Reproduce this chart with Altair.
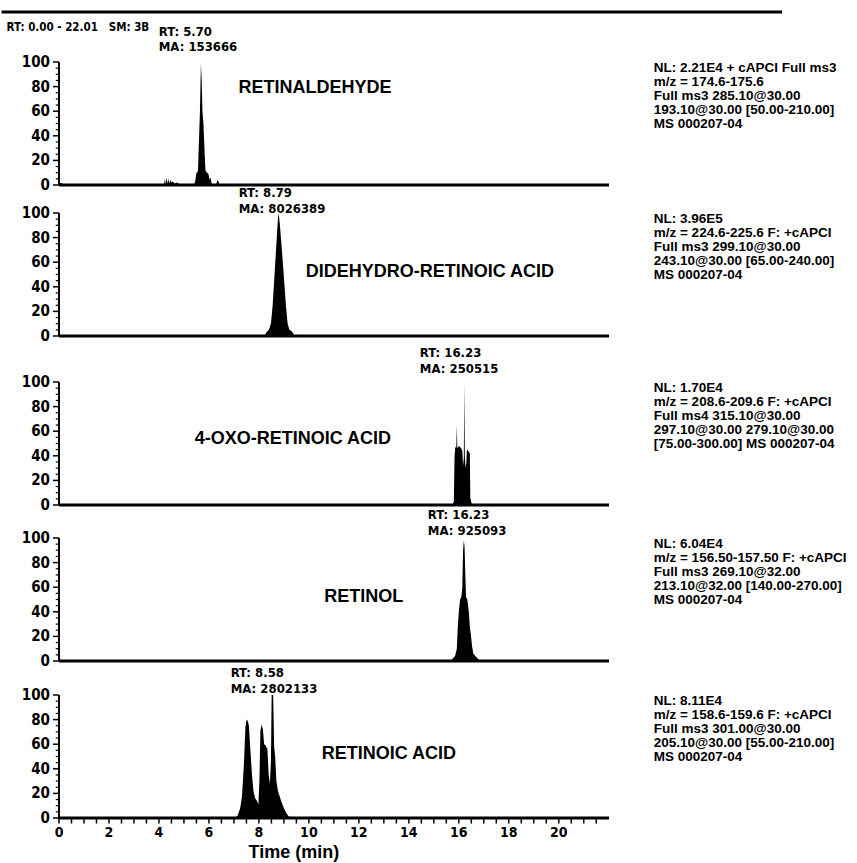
import altair as alt
import pandas as pd

X_MAX = 22.01
PX = 1.23  # pixels per intensity unit
NARROW = "Liberation Sans Narrow, DejaVu Sans Condensed, Arial Narrow, sans-serif"
SANS = "Liberation Sans, Arial, Helvetica, sans-serif"

# ---------------- data ----------------
p1_t = [0.00, 0.15, 0.30, 4.20, 4.24, 4.27, 4.31, 4.34, 4.38, 4.41, 4.45, 4.50, 4.56, 4.62, 4.70, 4.80, 4.95,
        5.30, 5.42, 5.46, 5.50, 5.56, 5.60, 5.64, 5.68, 5.71, 5.74, 5.78, 5.82, 5.86, 5.92, 5.98, 6.03,
        6.07, 6.11, 6.20, 6.30, 6.34, 6.38, 6.42]
p1_y = [2, 1, 0, 0, 5, 0.5, 6, 1, 5, 1, 4, 2, 3, 1, 2, 1, 0.5,
        0.5, 1, 4, 10, 11, 35, 60, 99, 85, 60, 50, 30, 12, 10, 9, 4,
        6, 1, 0.5, 1, 4, 3, 0]

p2_t = [8.22, 8.30, 8.40, 8.48, 8.55, 8.62, 8.70, 8.76, 8.79, 8.84, 8.92, 9.00, 9.08, 9.15, 9.22,
        9.30, 9.38, 9.42, 9.55, 9.60, 9.70, 9.75]
p2_y = [0, 3, 5, 10, 25, 48, 75, 95, 100, 90, 70, 48, 25, 10, 5,
        4, 2, 0, 1, 0, 1, 0]

p3_t = [15.75, 15.80, 15.83, 15.86, 15.90, 15.92, 15.94, 16.00, 16.06, 16.10, 16.14, 16.17, 16.20, 16.22,
        16.24, 16.27, 16.30, 16.32, 16.36, 16.40, 16.44, 16.46, 16.50, 16.55]
p3_y = [0, 3, 40, 47, 47, 65, 46, 48, 47, 46, 44, 32, 38, 99,
        40, 30, 34, 44, 45, 43, 42, 6, 2, 0]

p4_t = [15.70, 15.75, 15.85, 15.92, 15.96, 16.00, 16.05, 16.10, 16.14, 16.17, 16.20, 16.23, 16.26, 16.29,
        16.34, 16.40, 16.44, 16.48, 16.53, 16.58, 16.66, 16.75, 16.86]
p4_y = [0, 2, 4, 10, 28, 40, 50, 52, 60, 90, 98, 93, 70, 52,
        50, 40, 28, 22, 12, 6, 4, 2, 0]

p5_t = [7.05, 7.15, 7.25, 7.32, 7.40, 7.46, 7.51, 7.55, 7.60, 7.66, 7.72, 7.78, 7.85, 7.92, 7.98, 8.02,
        8.06, 8.11, 8.16, 8.21, 8.27, 8.34, 8.39, 8.44, 8.48, 8.51, 8.57, 8.61, 8.65, 8.70, 8.76, 8.84,
        8.92, 9.00, 9.07, 9.13, 9.20, 9.27, 9.35]
p5_y = [0, 2, 8, 17, 44, 74, 80, 79, 75, 55, 36, 22, 16, 14, 11, 30,
        71, 76, 72, 60, 59, 56, 35, 28, 45, 100, 100, 58, 50, 30, 22, 17,
        12, 8, 5, 3, 1, 1, 0]

compounds = ["RETINALDEHYDE", "DIDEHYDRO-RETINOIC ACID", "4-OXO-RETINOIC ACID", "RETINOL", "RETINOIC ACID"]
compound_t = [10.24, 14.84, 9.36, 12.2, 13.2]
compound_y = [79, 52, 54, 52, 52]

rt_labels = ["RT: 5.70", "RT: 8.79", "RT: 16.23", "RT: 16.23", "RT: 8.58"]
ma_labels = ["MA: 153666", "MA: 8026389", "MA: 250515", "MA: 925093", "MA: 2802133"]
rt_t = [3.99, 7.19, 14.44, 14.76, 6.87]
rt_y = [124, 116.3, 123.6, 118.7, 117.9]
ma_y = [112, 103.3, 110.6, 105.7, 104.9]

info = [
    ["NL: 2.21E4 + cAPCI Full ms3", "m/z = 174.6-175.6", "Full ms3 285.10@30.00",
     "193.10@30.00 [50.00-210.00]", "MS 000207-04"],
    ["NL: 3.96E5", "m/z = 224.6-225.6 F: +cAPCI", "Full ms3 299.10@30.00",
     "243.10@30.00 [65.00-240.00]", "MS 000207-04"],
    ["NL: 1.70E4", "m/z = 208.6-209.6 F: +cAPCI", "Full ms4 315.10@30.00",
     "297.10@30.00 279.10@30.00", "[75.00-300.00] MS 000207-04"],
    ["NL: 6.04E4", "m/z = 156.50-157.50 F: +cAPCI", "Full ms3 269.10@32.00",
     "213.10@32.00 [140.00-270.00]", "MS 000207-04"],
    ["NL: 8.11E4", "m/z = 158.6-159.6 F: +cAPCI", "Full ms3 301.00@30.00",
     "205.10@30.00 [55.00-210.00]", "MS 000207-04"],
]
info_t = 23.8
info_y = 91.5

header_text = "RT: 0.00 - 22.01\u00a0\u00a0\u00a0SM: 3B"
header_line_t = [-2.3, 28.94]
panel_ymax = [150.41, 122.76, 137.40, 126.83, 127.64]

y_major = [0, 20, 40, 60, 80, 100]
y_minor = [v for v in range(0, 101, 5) if v % 20 != 0]
x_ticks = [i * 0.5 for i in range(44)]
x_labels = [0, 2, 4, 6, 8, 10, 12, 14, 16, 18, 20]
x_title = "Time (min)"

series = [(p1_t, p1_y), (p2_t, p2_y), (p3_t, p3_y), (p4_t, p4_y), (p5_t, p5_y)]


def panel(i):
    t, y = series[i]
    ymax = panel_ymax[i]
    bottom = i == len(series) - 1
    xs = alt.Scale(domain=[0, X_MAX], nice=False, zero=False)
    ys = alt.Scale(domain=[0, ymax], nice=False, zero=False)

    def X(f):
        return alt.X(f, scale=xs, axis=None)

    def Y(f):
        return alt.Y(f, scale=ys, axis=None)

    df = pd.DataFrame({"t": t, "y": y})
    area = alt.Chart(df).mark_area(color="black", interpolate="linear").encode(
        x=X("t:Q"), y=Y("y:Q"))

    # axis lines
    xline = alt.Chart(pd.DataFrame({"x0": [0.0], "x1": [X_MAX], "y": [0]})).mark_rule(
        color="black", strokeWidth=3).encode(x=X("x0:Q"), x2="x1:Q", y=Y("y:Q"))
    yline = alt.Chart(pd.DataFrame({"x0": [0.0], "a": [0], "b": [100]})).mark_rule(
        color="black", strokeWidth=2).encode(x=X("x0:Q"), y=Y("a:Q"), y2="b:Q")
    major = alt.Chart(pd.DataFrame({"v": y_major, "x0": [-0.24] * len(y_major),
                                    "x1": [0.0] * len(y_major)})).mark_rule(
        color="black", strokeWidth=1.5).encode(x=X("x0:Q"), x2="x1:Q", y=Y("v:Q"))
    minor = alt.Chart(pd.DataFrame({"v": y_minor, "x0": [-0.13] * len(y_minor),
                                    "x1": [0.0] * len(y_minor)})).mark_rule(
        color="black", strokeWidth=1.2).encode(x=X("x0:Q"), x2="x1:Q", y=Y("v:Q"))
    ylab = alt.Chart(pd.DataFrame({"v": y_major, "x0": [-0.36] * len(y_major),
                                   "label": [str(v) for v in y_major]})).mark_text(
        align="right", baseline="middle", font=NARROW, fontSize=15, fontWeight="bold",
        color="black").encode(x=X("x0:Q"), y=Y("v:Q"), text="label:N")

    ann = pd.DataFrame({"t": [rt_t[i], rt_t[i]], "y": [rt_y[i], ma_y[i]],
                        "label": [rt_labels[i], ma_labels[i]]})
    ann_text = alt.Chart(ann).mark_text(
        align="left", baseline="middle", font=NARROW, fontSize=13,
        fontWeight="bold", color="black").encode(x=X("t:Q"), y=Y("y:Q"), text="label:N")

    name_df = pd.DataFrame({"t": [compound_t[i]], "y": [compound_y[i]], "label": [compounds[i]]})
    name_text = alt.Chart(name_df).mark_text(
        align="center", baseline="middle", font=SANS, fontSize=18,
        fontWeight="bold", color="black").encode(x=X("t:Q"), y=Y("y:Q"), text="label:N")

    info_df = pd.DataFrame({"t": [info_t], "y": [info_y], "label": ["\n".join(info[i])]})
    info_text = alt.Chart(info_df).mark_text(
        align="left", baseline="alphabetic", font=SANS, fontSize=13.5,
        fontWeight="bold", color="black", lineBreak="\n", lineHeight=14).encode(
        x=X("t:Q"), y=Y("y:Q"), text="label:N")

    layers = [area, xline, yline, major, minor, ylab, ann_text, name_text, info_text]

    if bottom:
        xt = alt.Chart(pd.DataFrame({"v": x_ticks, "y0": [0.0] * len(x_ticks),
                                     "y1": [-4.5] * len(x_ticks)})).mark_rule(
            color="black", strokeWidth=1.5).encode(x=X("v:Q"), y=Y("y0:Q"), y2="y1:Q")
        xl = alt.Chart(pd.DataFrame({"v": x_labels, "y": [-12.3] * len(x_labels),
                                     "label": [str(v) for v in x_labels]})).mark_text(
            align="center", baseline="middle", font=NARROW, fontSize=14, fontWeight="bold",
            color="black").encode(x=X("v:Q"), y=Y("y:Q"), text="label:N")
        xtitle = alt.Chart(pd.DataFrame({"t": [9.4], "y": [-28.6], "label": [x_title]})).mark_text(
            align="center", baseline="middle", font=SANS, fontSize=18, fontWeight="bold",
            color="black").encode(x=X("t:Q"), y=Y("y:Q"), text="label:N")
        layers += [xt, xl, xtitle]

    if i == 0:
        hdr_line = alt.Chart(pd.DataFrame({"x0": [header_line_t[0]], "x1": [header_line_t[1]],
                                           "y": [140.7]})).mark_rule(
            color="black", strokeWidth=3).encode(x=X("x0:Q"), x2="x1:Q", y=Y("y:Q"))
        hdr_df = pd.DataFrame({"t": [-2.1], "y": [127.6], "label": [header_text]})
        hdr_text = alt.Chart(hdr_df).mark_text(
            align="left", baseline="middle", font=NARROW, fontSize=11.5,
            fontWeight="bold", color="black").encode(x=X("t:Q"), y=Y("y:Q"), text="label:N")
        layers += [hdr_line, hdr_text]

    return alt.layer(*layers).properties(width=550, height=round(ymax * PX))


chart = alt.vconcat(*[panel(i) for i in range(5)], spacing=0, bounds="flush").properties(
    padding={"left": 0, "top": 0, "right": 0, "bottom": 0}, background="white"
).configure_view(stroke=None)

chart.save("out.html", embed_options={"renderer": "svg", "actions": False})
